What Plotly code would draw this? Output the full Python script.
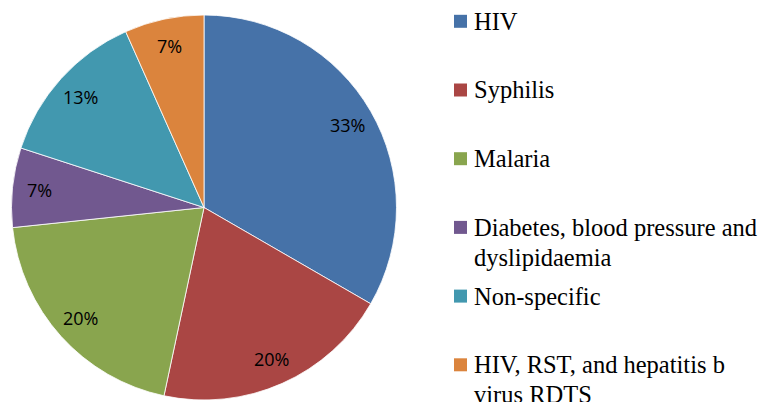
import math
import plotly.graph_objects as go

# ---- data ----
categories = ["HIV", "Syphilis", "Malaria", "Diabetes, blood pressure and dyslipidaemia",
              "Non-specific", "HIV, RST, and hepatitis b virus RDTS"]
legend_lines = [["HIV"], ["Syphilis"], ["Malaria"], ["Diabetes, blood pressure and", "dyslipidaemia"],
                ["Non-specific"], ["HIV, RST, and hepatitis b", "virus RDTS"]]
values = [5, 3, 3, 1, 2, 1]
colors = ["#4672A8", "#AA4644", "#89A54E", "#71588F", "#4298AF", "#DB843D"]

W, H = 769, 402
# pie placement in pixels
pie_left, pie_right, pie_top, pie_bottom = 11, 397, 15, 400
cx = (pie_left + pie_right) / 2
cy = (pie_top + pie_bottom) / 2
R = min(pie_right - pie_left, pie_bottom - pie_top) / 2

fig = go.Figure()
fig.add_trace(go.Pie(
    labels=categories, values=values, sort=False, direction="clockwise", rotation=0,
    marker=dict(colors=colors, line=dict(color="white", width=0.8)),
    textinfo="none", hoverinfo="label+percent", showlegend=False,
    domain=dict(x=[pie_left / W, pie_right / W], y=[1 - pie_bottom / H, 1 - pie_top / H]),
))

annotations = []
shapes = []
total = sum(values)
cum = 0
for v in values:
    mid = (cum + v / 2) / total * 2 * math.pi
    cum += v
    r = 0.86 * R
    px = cx + r * math.sin(mid)
    py = cy - r * math.cos(mid)
    annotations.append(dict(
        x=px / W, y=1 - py / H, xref="paper", yref="paper", showarrow=False,
        text=f"{round(v / total * 100)}%", xanchor="center", yanchor="middle",
        font=dict(family="Open Sans", size=18, color="black")))

# legend (manual, Excel-like spacing)
fs = 24.5
first_center = 21.3
pitch = 68.7
line_h = 30
for i, (lines, col) in enumerate(zip(legend_lines, colors)):
    yc = first_center + i * pitch
    shapes.append(dict(type="rect", xref="paper", yref="paper",
                       x0=454 / W, x1=467 / W, y0=1 - (yc + 6.5) / H, y1=1 - (yc - 6.5) / H,
                       fillcolor=col, line=dict(width=0)))
    for j, line in enumerate(lines):
        annotations.append(dict(
            x=472 / W, y=1 - (yc + j * line_h) / H, xref="paper", yref="paper", showarrow=False,
            text=line, xanchor="left", yanchor="middle", align="left",
            font=dict(family="Liberation Serif", size=fs, color="black")))

fig.update_layout(
    width=W, height=H, margin=dict(l=0, r=0, t=0, b=0),
    paper_bgcolor="white", plot_bgcolor="white", showlegend=False,
    annotations=annotations, shapes=shapes,
)
fig.write_html("out.html", config={"displayModeBar": False},
               post_script="document.body.style.margin='0';document.body.style.overflow='hidden';")
